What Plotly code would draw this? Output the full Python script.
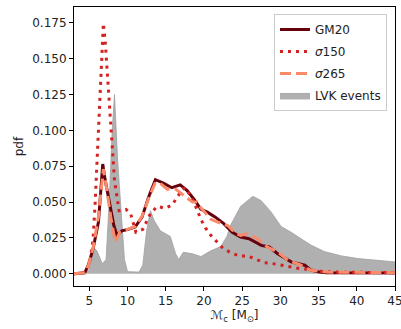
import plotly.graph_objects as go

# LVK events (grey filled)
lvk_x = [3.0, 4.5, 5.0, 5.6, 6.0, 6.7, 7.2, 7.6, 8.0, 8.3, 8.7, 9.2, 9.6, 10.0, 11.5, 12.0, 12.5, 13.0,
         13.5, 14.3, 15.6, 16.3, 16.7, 17.3, 18.5, 19.6, 20.9, 22.2, 23.0, 23.5, 24.8, 26.4, 27.5, 28.8,
         30.1, 31.4, 32.7, 34.0, 35.75, 38.0, 40.2, 42.3, 45.0]
lvk_y = [0.0, 0.0005, 0.003, 0.018, 0.016, 0.007, 0.010, 0.050, 0.100, 0.125, 0.080, 0.040, 0.010, 0.0015,
         0.0012, 0.006, 0.030, 0.044, 0.037, 0.030, 0.026, 0.014, 0.010, 0.015, 0.014, 0.012, 0.016, 0.019,
         0.026, 0.034, 0.047, 0.054, 0.051, 0.043, 0.033, 0.029, 0.0245, 0.020, 0.0155, 0.0125, 0.0106,
         0.0094, 0.0083]

# GM20
gm_x = [3.0, 4.4, 4.87, 5.5, 6.2, 6.76, 7.06, 7.7, 8.2, 8.6, 9.26, 10.1, 11.0, 11.9, 12.8, 13.65, 14.7,
        15.8, 16.9, 17.8, 18.7, 19.6, 20.45, 21.5, 22.6, 23.7, 24.8, 25.9, 27.5, 28.55, 29.65, 31.4,
        33.2, 34.0, 34.9, 36.0, 40.0, 45.0]
gm_y = [0.0, 0.0007, 0.006, 0.0175, 0.036, 0.0765, 0.066, 0.0476, 0.034, 0.027, 0.030, 0.031, 0.0326,
        0.0395, 0.054, 0.0656, 0.0632, 0.060, 0.062, 0.058, 0.052, 0.045, 0.043, 0.0395, 0.035, 0.029,
        0.0256, 0.0245, 0.0198, 0.0187, 0.014, 0.0083, 0.006, 0.0025, 0.0014, 0.0008, 0.0006, 0.0005]

# sigma150
s150_x = [3.0, 4.4, 5.1, 5.5, 5.75, 5.97, 6.2, 6.3, 6.5, 6.63, 6.84, 7.07, 7.3, 7.5, 7.72, 7.95, 8.3,
          8.9, 9.8, 10.4, 11.1, 12.0, 13.0, 13.9, 14.96, 15.84, 16.5, 17.2, 17.6, 18.7, 19.6, 20.2,
          20.9, 21.8, 22.55, 23.5, 24.6, 25.7, 26.8, 27.9, 29.0, 30.1, 31.4, 32.5, 33.6, 34.9, 37.0,
          40.0, 45.0]
s150_y = [0.0, 0.001, 0.0083, 0.0245, 0.0476, 0.075, 0.100, 0.119, 0.138, 0.156, 0.1746, 0.163, 0.1445,
          0.126, 0.1076, 0.089, 0.065, 0.044, 0.045, 0.042, 0.029, 0.031, 0.042, 0.047, 0.0457, 0.048,
          0.053, 0.059, 0.060, 0.050, 0.038, 0.032, 0.0268, 0.022, 0.0175, 0.0148, 0.0125, 0.0125,
          0.010, 0.0078, 0.0071, 0.006, 0.0048, 0.0037, 0.0032, 0.0018, 0.0012, 0.0010, 0.0008]

# sigma265
s265_x = [3.0, 4.4, 4.9, 5.5, 6.2, 6.84, 7.2, 7.8, 8.4, 9.0, 10.0, 11.0, 11.9, 12.8, 13.6, 14.1, 15.2,
          16.3, 17.4, 18.5, 19.1, 19.6, 20.9, 21.8, 23.1, 24.2, 24.8, 25.7, 27.0, 28.3, 29.65, 31.0,
          32.7, 34.0, 36.0, 40.0, 45.0]
s265_y = [0.0, 0.0007, 0.006, 0.018, 0.040, 0.073, 0.062, 0.040, 0.022, 0.029, 0.031, 0.033, 0.040,
          0.053, 0.063, 0.0638, 0.059, 0.059, 0.0545, 0.050, 0.050, 0.046, 0.038, 0.036, 0.0337, 0.028,
          0.0268, 0.028, 0.0245, 0.0187, 0.0152, 0.0094, 0.006, 0.0025, 0.0012, 0.0008, 0.0008]

x_ticks = [5, 10, 15, 20, 25, 30, 35, 40, 45]
y_ticks = [0.0, 0.025, 0.05, 0.075, 0.1, 0.125, 0.15, 0.175]

FONT = "DejaVu Sans"

fig = go.Figure()
fig.add_trace(go.Scatter(x=lvk_x, y=lvk_y, mode="lines", fill="tozeroy",
                         fillcolor="rgb(176,176,176)", line=dict(color="rgb(160,160,160)", width=0.8),
                         name="LVK events", legendrank=4, legendgroup="d"))
fig.add_trace(go.Scatter(x=gm_x, y=gm_y, mode="lines", line=dict(color="#67000d", width=3),
                         name="GM20", legendrank=1, legendgroup="a"))
fig.add_trace(go.Scatter(x=s150_x, y=s150_y, mode="lines",
                         line=dict(color="#d42020", width=3, dash="3px,5px"),
                         name="<i>σ</i>150", legendrank=2, legendgroup="b"))
fig.add_trace(go.Scatter(x=s265_x, y=s265_y, mode="lines",
                         line=dict(color="#fb8a6a", width=3, dash="11px,5px"),
                         name="<i>σ</i>265", legendrank=3, legendgroup="c"))

axis_common = dict(showgrid=False, zeroline=False, showline=True, linecolor="black", linewidth=1,
                   mirror=True, ticks="outside", ticklen=4, tickcolor="black",
                   ticklabeloverflow="allow", automargin=False,
                   tickfont=dict(family=FONT, size=12, color="#222"))

fig.update_layout(
    width=401, height=329,
    margin=dict(l=74, r=6, t=7, b=43),
    plot_bgcolor="white", paper_bgcolor="white",
    font=dict(family=FONT, size=12, color="#222"),
    xaxis=dict(range=[3, 45], tickvals=x_ticks, ticktext=[str(v) for v in x_ticks],
               title=dict(text="ℳ<sub>c</sub> [M<sub>⊙</sub>]", standoff=0,
                          font=dict(family=FONT, size=12)),
               **axis_common),
    yaxis=dict(range=[-0.0085, 0.186], tickvals=y_ticks, ticktext=[f"{v:.3f}" for v in y_ticks],
               title=dict(text="pdf", standoff=6, font=dict(family=FONT, size=12)),
               **axis_common),
    legend=dict(x=0.975, y=0.975, xanchor="right", yanchor="top", bgcolor="rgba(255,255,255,0.9)",
                bordercolor="#cccccc", borderwidth=1, font=dict(family=FONT, size=12),
                itemwidth=30, tracegroupgap=3, traceorder="grouped"),
    showlegend=True,
)

fig.write_html("out.html", config={"displayModeBar": False},
               post_script="document.body.style.margin='0';document.body.style.padding='0';")
